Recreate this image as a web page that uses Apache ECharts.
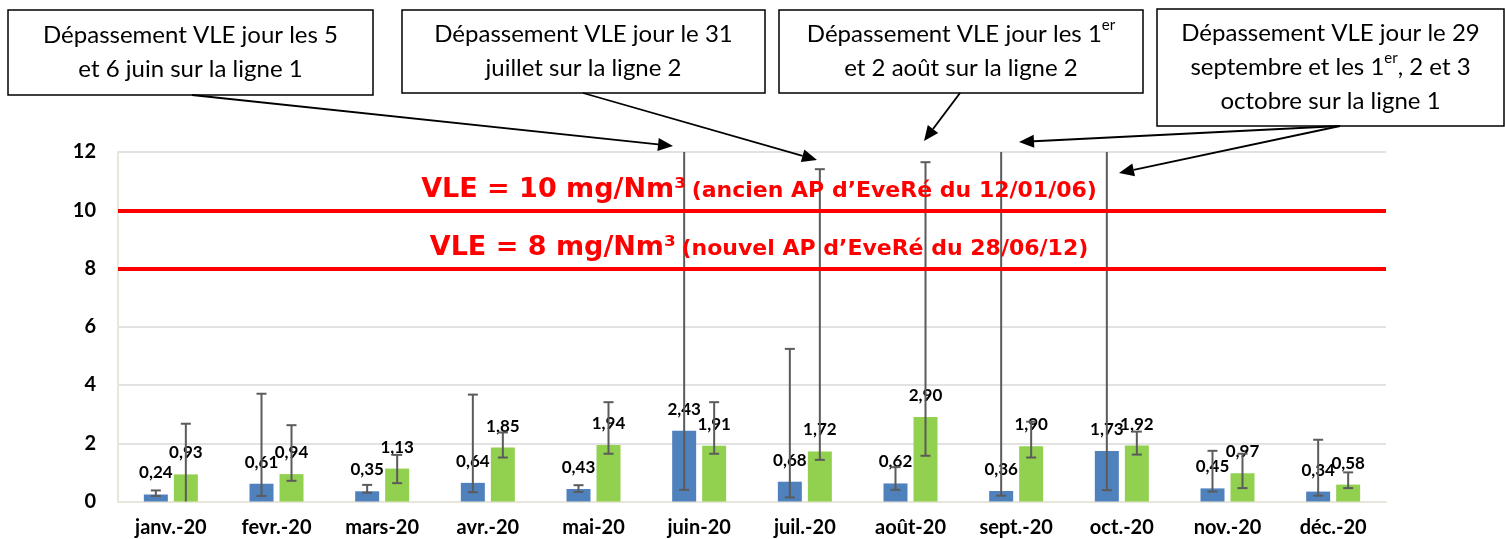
<!DOCTYPE html>
<html>
<head>
<meta charset="utf-8">
<script src="https://cdn.jsdelivr.net/npm/echarts@6/dist/echarts.min.js"></script>
<style>
  html, body { margin: 0; padding: 0; background: #ffffff; }
  #chart { width: 1505px; height: 539px; }
</style>
</head>
<body>
<div id="chart"></div>
<script>
// Monthly averages for the two lines (mg/Nm³), 2020
const months = ['janv.-20', 'fevr.-20', 'mars-20', 'avr.-20', 'mai-20', 'juin-20',
                'juil.-20', 'août-20', 'sept.-20', 'oct.-20', 'nov.-20', 'déc.-20'];
const ligne1 = [0.24, 0.61, 0.35, 0.64, 0.43, 2.43, 0.68, 0.62, 0.36, 1.73, 0.45, 0.34];
const ligne2 = [0.93, 0.94, 1.13, 1.85, 1.94, 1.91, 1.72, 2.90, 1.90, 1.92, 0.97, 0.58];

// Daily minimum / maximum for each month (error bars)
const ligne1Min = [0.19, 0.19, 0.30, 0.32, 0.33, 0.40, 0.14, 0.40, 0.20, 0.39, 0.34, 0.20];
const ligne1Max = [0.38, 3.70, 0.57, 3.67, 0.56, 14.0, 5.24, 1.18, 14.0, 14.0, 1.74, 2.12];
const ligne2Min = [0.00, 0.71, 0.63, 1.51, 1.64, 1.64, 1.43, 1.57, 1.51, 1.61, 0.46, 0.46];
const ligne2Max = [2.67, 2.62, 1.60, 2.37, 3.41, 3.41, 11.41, 11.65, 2.74, 2.40, 1.64, 1.00];

// Emission limit values
const vleLimits = [10, 8];
const yTicks = [0, 2, 4, 6, 8, 10, 12];

const Y_MAX = 12;
const BAR_W = 24;
const BAR_SHIFT = 15; // half of (bar width + gap) between the two bars of a month

const chart = echarts.init(document.getElementById('chart'), null, { renderer: 'canvas' });

function errorSeries(name, mins, maxs, shift) {
  return {
    name: name,
    type: 'custom',
    silent: true,
    z: 5,
    data: mins.map((lo, i) => [i, lo, maxs[i]]),
    encode: { x: 0, y: [1, 2] },
    renderItem: function (params, api) {
      const i = api.value(0);
      const lo = api.value(1);
      const hi = api.value(2);
      const pLo = api.coord([i, lo]);
      const pHi = api.coord([i, Math.min(hi, Y_MAX)]);
      const x = pLo[0] + shift;
      const cap = 5;
      const style = { stroke: '#5b5b5b', lineWidth: 2 };
      const children = [
        { type: 'line', shape: { x1: x, y1: pLo[1], x2: x, y2: pHi[1] }, style: style }
      ];
      if (lo > 0) {
        children.push({ type: 'line', shape: { x1: x - cap, y1: pLo[1], x2: x + cap, y2: pLo[1] }, style: style });
      }
      if (hi <= Y_MAX) {
        children.push({ type: 'line', shape: { x1: x - cap, y1: pHi[1], x2: x + cap, y2: pHi[1] }, style: style });
      }
      return { type: 'group', children: children };
    }
  };
}

const valueLabel = {
  show: true,
  position: 'top',
  distance: 13,
  color: '#000000',
  fontFamily: 'Lato',
  fontWeight: 'bold',
  fontSize: 17,
  formatter: p => p.value.toFixed(2).replace('.', ',')
};

const vleTexts = {
  10: ['VLE = 10 mg/Nm³', '(ancien AP d’EveRé du 12/01/06)'],
  8: ['VLE = 8 mg/Nm³', '(nouvel AP d’EveRé du 28/06/12)']
};

// Annotation boxes
const boxes = [
  { x: 8, y: 10, w: 365, h: 85, text: 'Dépassement VLE jour les 5\net 6 juin sur la ligne 1' },
  { x: 402, y: 10, w: 363, h: 83, text: 'Dépassement VLE jour le 31\njuillet sur la ligne 2' },
  { x: 779, y: 10, w: 364, h: 83, text: 'Dépassement VLE jour les 1{sup|er}\net 2 août sur la ligne 2' },
  { x: 1157, y: 9, w: 347, h: 117, text: 'Dépassement VLE jour le 29\nseptembre et les 1{sup|er}, 2 et 3\noctobre sur la ligne 1' }
];
const arrows = [
  [192, 95, 673, 146],
  [583, 93, 817, 160],
  [960, 93, 924, 141],
  [1340, 126, 1019, 142],
  [1340, 126, 1119, 173]
];

const graphics = [];
boxes.forEach(b => {
  graphics.push({
    type: 'rect', silent: true, z: 50,
    shape: { x: b.x, y: b.y, width: b.w, height: b.h },
    style: { fill: '#ffffff', stroke: '#000000', lineWidth: 1.5 }
  });
  graphics.push({
    type: 'text', silent: true, z: 51,
    x: b.x + b.w / 2, y: b.y + b.h / 2,
    style: {
      text: b.text,
      align: 'center', verticalAlign: 'middle',
      fontFamily: 'Lato', fontSize: 24, lineHeight: 34, fill: '#000000',
      rich: { sup: { fontFamily: 'Lato', fontSize: 15, verticalAlign: 'top', lineHeight: 34, padding: [0, 0, 12, 0] } }
    }
  });
});
arrows.forEach(a => {
  const [x1, y1, x2, y2] = a;
  const dx = x2 - x1, dy = y2 - y1;
  const len = Math.sqrt(dx * dx + dy * dy);
  const ux = dx / len, uy = dy / len;
  const head = 15, half = 6.5;
  const bx = x2 - ux * head, by = y2 - uy * head;
  graphics.push({
    type: 'line', silent: true, z: 50,
    shape: { x1: x1, y1: y1, x2: bx, y2: by },
    style: { stroke: '#000000', lineWidth: 1.8 }
  });
  graphics.push({
    type: 'polygon', silent: true, z: 50,
    shape: { points: [[x2, y2], [bx - uy * half, by + ux * half], [bx + uy * half, by - ux * half]] },
    style: { fill: '#000000' }
  });
});

const option = {
  animation: false,
  backgroundColor: '#ffffff',
  grid: { left: 118, right: 119, top: 152, bottom: 37.5, containLabel: false },
  xAxis: {
    type: 'category',
    data: months,
    axisTick: { show: false },
    axisLine: { show: true, lineStyle: { color: '#e8e5da', width: 2 } },
    axisLabel: {
      color: '#000000', fontFamily: 'Lato', fontWeight: 'bold', fontSize: 20,
      margin: 16, interval: 0
    }
  },
  yAxis: {
    type: 'value',
    min: 0, max: Y_MAX, interval: 2,
    axisLine: { show: true, lineStyle: { color: '#e8e5da', width: 2 } },
    axisTick: { show: false },
    splitLine: { lineStyle: { color: '#d9d9d9', width: 1.5 } },
    axisLabel: {
      color: '#000000', fontFamily: 'Lato', fontWeight: 'bold', fontSize: 20, margin: 22,
      formatter: v => (yTicks.indexOf(v) >= 0 ? String(v) : '')
    }
  },
  series: [
    {
      name: 'Ligne 1',
      type: 'bar',
      data: ligne1,
      barWidth: BAR_W,
      barGap: '25%',
      itemStyle: { color: '#4f81bd' },
      label: valueLabel,
      markLine: {
        silent: true,
        symbol: 'none',
        z: 20,
        lineStyle: { color: '#ff0000', width: 4, type: 'solid' },
        label: {
          show: true,
          position: 'insideMiddleTop',
          distance: 7,
          formatter: p => '{big|' + vleTexts[p.value][0] + '}{gap| }{small|' + vleTexts[p.value][1] + '}',
          rich: {
            big: { fontFamily: 'DejaVu Sans', fontWeight: 'bold', fontSize: 27, lineHeight: 27, color: '#ff0000', verticalAlign: 'bottom', padding: [0, 0, 0, 14] },
            gap: { fontFamily: 'DejaVu Sans', fontSize: 18, lineHeight: 27, verticalAlign: 'bottom' },
            small: { fontFamily: 'DejaVu Sans', fontWeight: 'bold', fontSize: 22, lineHeight: 27, color: '#ff0000', verticalAlign: 'bottom', padding: [0, 0, 1, 0] }
          }
        },
        data: vleLimits.map(v => ({ yAxis: v }))
      }
    },
    {
      name: 'Ligne 2',
      type: 'bar',
      data: ligne2,
      barWidth: BAR_W,
      barGap: '25%',
      itemStyle: { color: '#92d050' },
      label: valueLabel
    },
    errorSeries('Ligne 1 min/max', ligne1Min, ligne1Max, -BAR_SHIFT),
    errorSeries('Ligne 2 min/max', ligne2Min, ligne2Max, BAR_SHIFT)
  ],
  graphic: graphics
};

chart.setOption(option);
</script>
</body>
</html>
